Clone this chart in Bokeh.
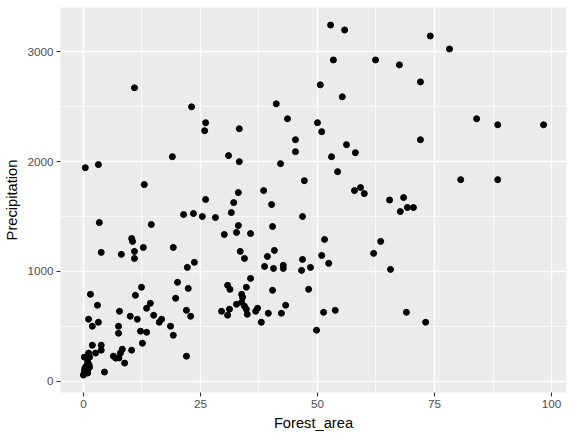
from bokeh.plotting import figure
from bokeh.models import FixedTicker, Range1d
from bokeh.embed import file_html
from bokeh.resources import INLINE

forest_area = [
    0.4, 3.2, 10.9, 13.0, 19.0, 23.1, 26.1, 25.9, 31.0, 26.1,
    52.8, 55.8, 53.4, 62.4, 67.5, 50.6, 55.3, 41.2, 43.6, 50.0,
    50.9, 33.3, 45.3, 45.3, 56.2, 58.1, 53.0, 33.3, 42.1, 54.3,
    47.2, 33.1, 38.5, 57.9, 59.2, 60.0, 65.4, 68.4, 74.1, 78.2,
    72.0, 84.0, 88.5, 98.3, 72.0, 80.6, 88.5, 67.7, 69.2, 70.5,
    69.0, 73.1,
    32.1, 31.6, 40.2, 46.8, 33.1, 32.7, 35.7, 40.4, 51.5, 63.5,
    33.5, 34.4, 40.8, 39.3, 50.9, 52.4, 46.8, 62.0, 38.7, 40.6,
    42.7, 42.7, 46.6, 48.5, 65.6, 35.7, 34.8, 40.4, 48.1, 33.8,
    34.0, 32.7, 33.8, 34.4, 34.8, 35.0, 36.8, 37.2, 39.5, 43.2,
    42.3, 38.0, 51.3, 53.8, 49.8, 29.5, 30.8, 31.2, 30.8, 31.3,
    3.4, 14.5, 21.4, 23.5, 25.4, 28.2, 30.1, 10.3, 10.5, 3.8,
    8.1, 10.9, 10.9, 12.8, 19.2, 22.2, 23.7, 20.1, 22.4, 19.7,
    22.0, 22.9, 18.6, 19.2, 22.0, 12.4, 11.1, 14.3, 13.5, 15.0,
    16.7, 16.2, 11.5, 10.0, 7.7, 12.2, 13.5, 12.6, 1.5, 3.0,
    1.1, 1.9, 3.2, 7.5, 7.5, 1.9, 3.8, 3.8, 2.6, 1.1,
    1.3, 0.2, 8.3, 10.3, 7.9, 6.4, 6.9, 7.6, 8.8, 4.5,
    0.9, 1.2, 0.6, 1.3, 0.3, 1.0, 0.5, 0.2, 0.6, 0.9, 0.1, 0.0,
]

precipitation = [
    1945, 1973, 2673, 1791, 2045, 2500, 2355, 2282, 2055, 1655,
    3245, 3200, 2927, 2927, 2882, 2700, 2591, 2527, 2391, 2355,
    2273, 2300, 2200, 2091, 2155, 2082, 2045, 2000, 1982, 1909,
    1827, 1718, 1736, 1736, 1764, 1709, 1650, 1673, 3145, 3027,
    2727, 2391, 2336, 2336, 2200, 1836, 1836, 1545, 1582, 1582,
    627, 536,
    1627, 1536, 1609, 1500, 1418, 1355, 1345, 1409, 1291, 1273,
    1182, 1118, 1191, 1136, 1145, 1073, 1109, 1164, 1045, 1027,
    1055, 1027, 1009, 1036, 1018, 936, 855, 827, 836, 791,
    764, 700, 718, 682, 655, 609, 636, 664, 618, 691,
    618, 536, 627, 645, 464, 636, 600, 655, 873, 836,
    1445, 1427, 1518, 1527, 1500, 1491, 1336, 1300, 1273, 1173,
    1155, 1182, 1118, 1218, 1218, 1036, 1082, 900, 845, 755,
    645, 591, 500, 418, 227, 855, 782, 709, 664, 600,
    564, 536, 564, 591, 636, 455, 445, 345, 791, 691,
    564, 500, 536, 500, 436, 327, 327, 282, 255, 255,
    218, 218, 291, 282, 255, 227, 209, 211, 164, 82,
    173, 150, 136, 127, 118, 109, 100, 91, 82, 73, 64, 55,
]

x_ticks = [0, 25, 50, 75, 100]
x_minor = [12.5, 37.5, 62.5, 87.5]
y_ticks = [0, 1000, 2000, 3000]
y_minor = [500, 1500, 2500]

FONT = "Liberation Sans"

p = figure(width=574, height=438, output_backend="svg", toolbar_location=None,
           x_range=Range1d(-4.9, 103.2), y_range=Range1d(-104, 3405),
           min_border_left=60, min_border_right=8, min_border_top=7, min_border_bottom=46)

p.background_fill_color = "#EBEBEB"
p.border_fill_color = "white"
p.outline_line_color = None

p.xaxis.ticker = FixedTicker(ticks=x_ticks, minor_ticks=x_minor)
p.yaxis.ticker = FixedTicker(ticks=y_ticks, minor_ticks=y_minor)

for g in (p.xgrid, p.ygrid):
    g.grid_line_color = "white"
    g.grid_line_width = 1.4
    g.minor_grid_line_color = "white"
    g.minor_grid_line_width = 0.7

for ax in (p.xaxis, p.yaxis):
    ax.axis_line_color = None
    ax.major_tick_line_color = "#333333"
    ax.major_tick_line_width = 1.1
    ax.major_tick_out = 4
    ax.major_tick_in = 0
    ax.minor_tick_line_color = None
    ax.major_label_text_color = "#4D4D4D"
    ax.major_label_text_font = FONT
    ax.major_label_text_font_size = "11.7px"
    ax.axis_label_text_font = FONT
    ax.axis_label_text_font_size = "14.7px"
    ax.axis_label_text_font_style = "normal"
    ax.axis_label_text_color = "black"
    ax.major_label_standoff = 3
    ax.axis_label_standoff = 4

p.xaxis.axis_label = "Forest_area"
p.yaxis.axis_label = "Precipitation"

p.scatter(forest_area, precipitation, size=6, color="black")

open("out.html", "w").write(file_html(p, INLINE))
